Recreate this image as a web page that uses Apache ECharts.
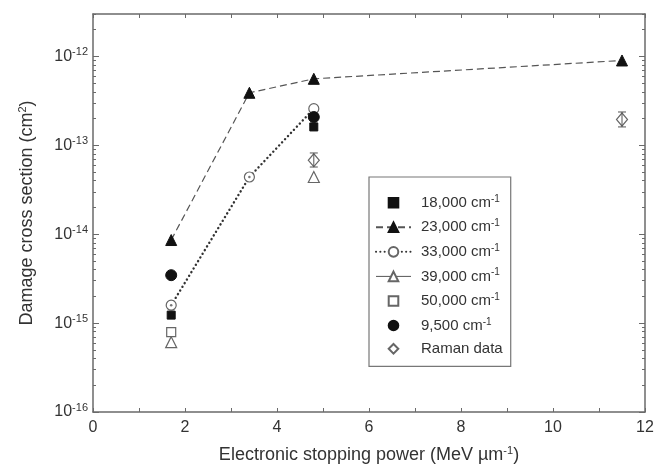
<!DOCTYPE html>
<html><head><meta charset="utf-8">
<script src="https://cdn.jsdelivr.net/npm/echarts@6/dist/echarts.min.js"></script>
<style>html,body{margin:0;padding:0;background:#fff}#c{width:654px;height:467px}</style>
</head><body><div id="c"></div>
<script>
// Data (x = electronic stopping power, MeV/µm; y = damage cross section, cm^2)
const s18000 = [[1.7, 1.23e-15], [4.8, 1.61e-13]];
const s23000 = [[1.7, 8.6e-15], [3.4, 3.9e-13], [4.8, 5.6e-13], [11.5, 9.0e-13]];
const s33000 = [[1.7, 1.59e-15], [3.4, 4.4e-14], [4.8, 2.58e-13]];
const s39000 = [[1.7, 6.1e-16], [4.8, 4.4e-14]];
const s50000 = [[1.7, 7.9e-16]];
const s9500  = [[1.7, 3.46e-15], [4.8, 2.08e-13]];
const ramanX = [4.8, 11.5];
const ramanY = [6.8e-14, 1.95e-13];
const ramanLow = [5.7e-14, 1.61e-13];
const ramanHigh = [8.2e-14, 2.37e-13];
const yMajor = [1e-16, 1e-15, 1e-14, 1e-13, 1e-12];
const xTickLabels = ['0', '2', '4', '6', '8', '10', '12'];
const yMinor = [];
[1e-16, 1e-15, 1e-14, 1e-13, 1e-12].forEach(d => { for (let k = 2; k <= 9; k++) { const v = d * k; if (v <= 3e-12) yMinor.push(v); } });

const FONT = 'Liberation Sans';
const AX = '#6a6a6a';
const TXT = '#333';
const BLK = '#111';
const GRY = '#666';

const chart = echarts.init(document.getElementById('c'), null, {renderer: 'canvas'});
const ramanData = ramanX.map((x, i) => [x, ramanY[i]]);
const errData = ramanX.map((x, i) => [x, ramanLow[i], ramanHigh[i]]);

function yAxisBase(pos, values, len, labels) {
  return {
    type: 'log', logBase: 10, min: 1e-16, max: 3e-12, position: pos,
    axisLine: {show: values === yMajor, lineStyle: {color: AX, width: 1.5}},
    axisTick: {show: true, inside: true, length: len, customValues: values, lineStyle: {color: AX, width: 1}},
    splitLine: {show: false},
    axisLabel: labels ? {
      show: true, margin: 5, customValues: yMajor,
      formatter: v => { const e = Math.round(Math.log10(v)); return '{b|10}{s|' + e + '}'; },
      rich: {b: {fontSize: 16, fontFamily: FONT, color: TXT, lineHeight: 20}, s: {fontSize: 11, fontFamily: FONT, color: TXT, verticalAlign: 'top', lineHeight: 12}}
    } : {show: false}
  };
}

const yAxes = [
  Object.assign(yAxisBase('left', yMajor, 6, true), {
    name: '{t|Damage cross section (cm}{s|2}{t|)}', nameLocation: 'middle', nameGap: 55,
    nameTextStyle: {rich: {t: {fontSize: 18, fontFamily: FONT, color: TXT, lineHeight: 21}, s: {fontSize: 11, fontFamily: FONT, color: TXT, verticalAlign: 'top', lineHeight: 12}}}
  }),
  yAxisBase('left', yMinor, 3, false),
  yAxisBase('right', yMajor, 6, false),
  yAxisBase('right', yMinor, 3, false)
];

const xAxes = [
  {
    type: 'value', min: 0, max: 12, interval: 1, position: 'bottom',
    axisLine: {lineStyle: {color: AX, width: 1.5}},
    axisTick: {inside: true, length: 4, lineStyle: {color: AX}},
    splitLine: {show: false},
    axisLabel: {margin: 8, fontSize: 16, fontFamily: FONT, color: TXT,
      formatter: v => (xTickLabels.indexOf(String(v)) >= 0 ? String(v) : '')},
    name: '{t|Electronic stopping power (MeV µm}{s|-1}{t|)}', nameLocation: 'middle', nameGap: 33,
    nameTextStyle: {rich: {t: {fontSize: 18, fontFamily: FONT, color: TXT, lineHeight: 21}, s: {fontSize: 11, fontFamily: FONT, color: TXT, verticalAlign: 'top', lineHeight: 12}}}
  },
  {
    type: 'value', min: 0, max: 12, interval: 1, position: 'top',
    axisLine: {lineStyle: {color: AX, width: 1.5}},
    axisTick: {inside: true, length: 4, lineStyle: {color: AX}},
    splitLine: {show: false}, axisLabel: {show: false}
  }
];

function pts(name, data, symbol, size, filled, color, line, z) {
  return {
    name: name, type: 'line', data: data, xAxisIndex: 0, yAxisIndex: 0,
    symbol: symbol, symbolSize: size, showSymbol: true, showAllSymbol: true,
    itemStyle: filled ? {color: color, borderColor: color, borderWidth: 1} : {color: '#fff', borderColor: color, borderWidth: 1.2},
    lineStyle: line || {width: 0, opacity: 0},
    z: z || 3, animation: false, silent: true
  };
}

const series = [
  pts('18,000', s18000, 'rect', 8, true, BLK),
  pts('23,000', s23000, 'triangle', 11, true, BLK, {color: '#555', width: 1.2, type: [7, 4]}),
  pts('33,000', s33000, 'circle', 10, false, GRY, {color: '#333', width: 2.4, type: [0.1, 4.2], cap: 'round'}, 2),
  pts('39,000', s39000, 'triangle', 11, false, GRY),
  pts('50,000', s50000, 'rect', 9, false, GRY),
  pts('9,500', s9500, 'circle', 11, true, BLK),
  {
    name: 'Raman data', type: 'line', data: ramanData, symbol: 'diamond', symbolSize: [11, 13], showSymbol: true,
    itemStyle: {color: 'rgba(255,255,255,0)', borderColor: GRY, borderWidth: 1.2},
    lineStyle: {width: 0, opacity: 0}, z: 3, animation: false
  },
  {
    name: 'raman-err', type: 'custom', data: errData, z: 4, animation: false,
    renderItem: function (params, api) {
      const x = api.value(0);
      const lo = api.coord([x, api.value(1)]);
      const hi = api.coord([x, api.value(2)]);
      const w = 4;
      const st = {stroke: '#555', lineWidth: 1};
      return {type: 'group', children: [
        {type: 'line', shape: {x1: lo[0], y1: lo[1], x2: hi[0], y2: hi[1]}, style: st},
        {type: 'line', shape: {x1: lo[0] - w, y1: lo[1], x2: lo[0] + w, y2: lo[1]}, style: st},
        {type: 'line', shape: {x1: hi[0] - w, y1: hi[1], x2: hi[0] + w, y2: hi[1]}, style: st}
      ]};
    }
  },
  {
    name: 'dot33', type: 'scatter', data: s33000.slice(0, 2), symbol: 'circle', symbolSize: 2.5,
    itemStyle: {color: '#555'}, z: 5, animation: false, silent: true
  }
];

const legendNames = ['18,000', '23,000', '33,000', '39,000', '50,000', '9,500', 'Raman data'];

chart.setOption({
  animation: false,
  grid: {left: 93, right: 9, top: 14, bottom: 55, outerBoundsMode: 'none', containLabel: false},
  xAxis: xAxes,
  yAxis: yAxes,
  legend: {
    orient: 'vertical', left: 369, top: 177,
    data: legendNames.map(n => n === '39,000' ? {name: n, lineStyle: {width: 1, opacity: 1, color: '#555', type: 'solid'}} : {name: n}),
    itemWidth: 35, itemHeight: 12, itemGap: 8.3,
    padding: [17, 8, 10, 6],
    borderColor: '#777', borderWidth: 1.2, backgroundColor: '#fff',
    selectedMode: false,
    formatter: n => n === 'Raman data' ? '{t|Raman data}' : '{t|' + n + ' cm}{s|-1}',
    textStyle: {padding: [0, 0, 0, 5], rich: {t: {fontSize: 15, fontFamily: FONT, color: TXT, lineHeight: 17.5}, s: {fontSize: 10, fontFamily: FONT, color: TXT, verticalAlign: 'top', lineHeight: 11}}}
  },
  series: series
});
</script></body></html>
